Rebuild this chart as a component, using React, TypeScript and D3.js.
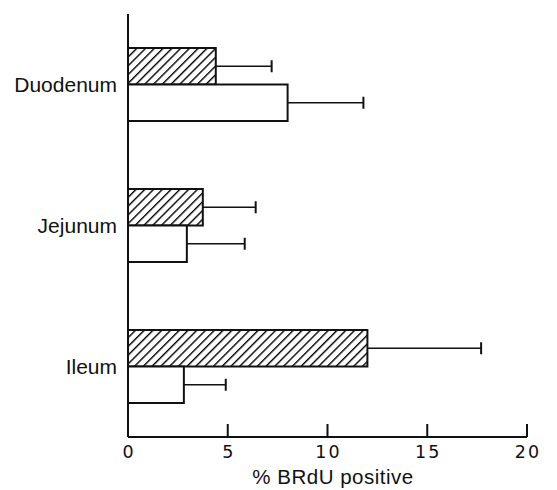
import * as d3 from "d3";
import { useEffect, useRef } from "react";

// data
const regions = ["Duodenum", "Jejunum", "Ileum"];
const hatchedValues = [4.4, 3.75, 12.0];
const hatchedErrors = [2.8, 2.65, 5.7];
const openValues = [8.0, 2.95, 2.8];
const openErrors = [3.8, 2.9, 2.1];
const xTicks = [0, 5, 10, 15, 20];

const W = 557;
const H = 490;

const App = () => {
    const ref = useRef<SVGSVGElement>(null);

    useEffect(() => {
        const svg = d3.select(ref.current);
        svg.selectAll("*").remove();

        const margin = { top: 14, left: 128, right: 30, bottom: 53 };
        const x = d3.scaleLinear().domain([0, 20]).range([margin.left, W - margin.right]);
        const y = d3.scalePoint().domain(regions).range([margin.top, H - margin.bottom]).padding(0.5);
        const barH = 36.5;

        const defs = svg.append("defs");
        const pat = defs.append("pattern")
            .attr("id", "hatch")
            .attr("patternUnits", "userSpaceOnUse")
            .attr("width", 6.2)
            .attr("height", 6.2)
            .attr("patternTransform", "rotate(45)");
        pat.append("rect").attr("width", 6.2).attr("height", 6.2).attr("fill", "#fff");
        pat.append("line")
            .attr("x1", 0).attr("y1", 0).attr("x2", 0).attr("y2", 6.2)
            .attr("stroke", "#000").attr("stroke-width", 2.8);

        const g = svg.append("g");

        const drawSeries = (vals: number[], errs: number[], offset: number, fill: string) => {
            regions.forEach((r, i) => {
                const cy = (y(r) as number) + offset;
                // error bar
                g.append("line")
                    .attr("x1", x(vals[i])).attr("x2", x(vals[i] + errs[i]))
                    .attr("y1", cy).attr("y2", cy)
                    .attr("stroke", "#111").attr("stroke-width", 1.6);
                g.append("line")
                    .attr("x1", x(vals[i] + errs[i])).attr("x2", x(vals[i] + errs[i]))
                    .attr("y1", cy - 6).attr("y2", cy + 6)
                    .attr("stroke", "#111").attr("stroke-width", 2);
                g.append("rect")
                    .attr("x", x(0)).attr("y", cy - barH / 2)
                    .attr("width", x(vals[i]) - x(0)).attr("height", barH)
                    .attr("fill", fill)
                    .attr("stroke", "#111").attr("stroke-width", 2);
            });
        };
        drawSeries(hatchedValues, hatchedErrors, -barH / 2, "url(#hatch)");
        drawSeries(openValues, openErrors, barH / 2, "#fff");

        // axes
        const axisY = H - margin.bottom;
        g.append("line")
            .attr("x1", x(0)).attr("x2", x(0))
            .attr("y1", margin.top).attr("y2", axisY)
            .attr("stroke", "#111").attr("stroke-width", 2);
        g.append("line")
            .attr("x1", x(0)).attr("x2", x(20))
            .attr("y1", axisY).attr("y2", axisY)
            .attr("stroke", "#111").attr("stroke-width", 2);

        g.selectAll(".tick")
            .data(xTicks)
            .enter()
            .append("line")
            .attr("x1", d => x(d)).attr("x2", d => x(d))
            .attr("y1", axisY).attr("y2", axisY - 13)
            .attr("stroke", "#111").attr("stroke-width", 2);

        g.selectAll(".tlabel")
            .data(xTicks)
            .enter()
            .append("text")
            .attr("x", d => x(d) + 1)
            .attr("y", axisY + 21)
            .attr("text-anchor", "middle")
            .style("font-family", "'DejaVu Sans', sans-serif")
            .style("font-size", "17.5px")
            .style("letter-spacing", "2px")
            .attr("fill", "#111")
            .text(d => d);

        g.selectAll(".rlabel")
            .data(regions)
            .enter()
            .append("text")
            .attr("x", x(0) - 11)
            .attr("y", d => (y(d) as number) + 7.5)
            .attr("text-anchor", "end")
            .style("font-family", "'Liberation Sans', Arial, sans-serif")
            .style("font-size", "21px")
            .attr("fill", "#111")
            .text(d => d);

        g.append("text")
            .attr("x", 333)
            .attr("y", H - 6)
            .attr("text-anchor", "middle")
            .style("font-family", "'Liberation Sans', Arial, sans-serif")
            .style("font-size", "20.5px")
            .style("letter-spacing", "0.5px")
            .attr("fill", "#111")
            .text("% BRdU positive");
    }, []);

    return (
        <svg ref={ref} width={W} height={H} style={{ position: "absolute", left: 0, top: 0, background: "#fff" }}></svg>
    );
};

export default App;
